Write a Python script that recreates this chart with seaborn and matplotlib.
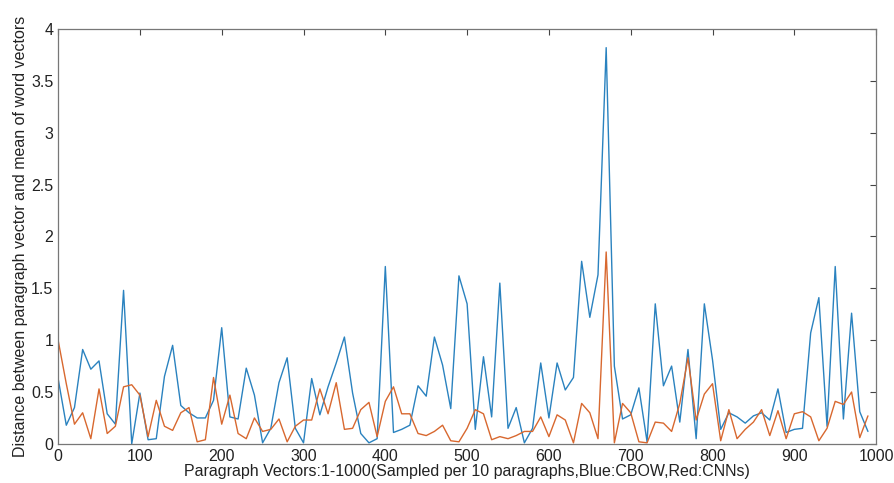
import numpy as np
import pandas as pd
import matplotlib
matplotlib.use("Agg")
import matplotlib.pyplot as plt
import seaborn as sns

# sampled paragraph index (every 10 paragraphs)
x_idx = list(range(0, 1000, 10))

cbow = [0.63, 0.18, 0.35, 0.91, 0.72, 0.80, 0.29, 0.19, 1.48, 0.00,
        0.49, 0.04, 0.05, 0.65, 0.95, 0.37, 0.30, 0.25, 0.25, 0.42,
        1.12, 0.26, 0.24, 0.73, 0.47, 0.01, 0.15, 0.59, 0.83, 0.15,
        0.01, 0.63, 0.28, 0.55, 0.78, 1.03, 0.49, 0.10, 0.01, 0.05,
        1.71, 0.11, 0.14, 0.18, 0.56, 0.46, 1.03, 0.76, 0.34, 1.62,
        1.35, 0.14, 0.84, 0.26, 1.55, 0.15, 0.35, 0.01, 0.15, 0.78,
        0.25, 0.78, 0.52, 0.64, 1.76, 1.22, 1.63, 3.82, 0.75, 0.24,
        0.28, 0.54, 0.02, 1.35, 0.56, 0.75, 0.21, 0.91, 0.05, 1.35,
        0.81, 0.14, 0.30, 0.26, 0.20, 0.27, 0.30, 0.23, 0.53, 0.11,
        0.14, 0.15, 1.07, 1.41, 0.17, 1.71, 0.24, 1.26, 0.31, 0.12]

cnns = [1.00, 0.58, 0.19, 0.30, 0.05, 0.53, 0.10, 0.17, 0.55, 0.57,
        0.47, 0.07, 0.42, 0.17, 0.13, 0.30, 0.35, 0.02, 0.04, 0.64,
        0.19, 0.47, 0.10, 0.05, 0.25, 0.12, 0.14, 0.24, 0.02, 0.17,
        0.23, 0.23, 0.53, 0.29, 0.59, 0.14, 0.15, 0.33, 0.40, 0.07,
        0.41, 0.55, 0.29, 0.29, 0.10, 0.08, 0.12, 0.18, 0.03, 0.02,
        0.15, 0.33, 0.29, 0.04, 0.07, 0.05, 0.08, 0.12, 0.12, 0.26,
        0.07, 0.28, 0.23, 0.01, 0.39, 0.30, 0.05, 1.85, 0.01, 0.39,
        0.30, 0.02, 0.01, 0.21, 0.20, 0.12, 0.39, 0.83, 0.23, 0.48,
        0.58, 0.03, 0.33, 0.05, 0.14, 0.21, 0.33, 0.08, 0.32, 0.05,
        0.29, 0.31, 0.26, 0.03, 0.15, 0.41, 0.38, 0.50, 0.06, 0.27]

yticks = [0, 0.5, 1, 1.5, 2, 2.5, 3, 3.5, 4]
ytick_labels = ["0", "0.5", "1", "1.5", "2", "2.5", "3", "3.5", "4"]
xticks = list(range(0, 1001, 100))

df = pd.DataFrame({"x": x_idx * 2,
                   "dist": cbow + cnns,
                   "model": ["CBOW"] * len(cbow) + ["CNNs"] * len(cnns)})

sns.set_style("white")
plt.rcParams['font.family'] = ['Liberation Sans', 'DejaVu Sans']

fig = plt.figure(figsize=(8.94, 4.83), dpi=100)
ax = fig.add_axes([0.065, 0.081, 0.915, 0.859])

sns.lineplot(data=df, x="x", y="dist", hue="model",
             palette={"CBOW": "#2a82bf", "CNNs": "#d8682f"},
             linewidth=1.0, legend=False, ax=ax)

ax.set_xlim(0, 1000)
ax.set_ylim(0, 4)
ax.set_xticks(xticks)
ax.set_yticks(yticks)
ax.set_yticklabels(ytick_labels)
ax.tick_params(direction="in", length=4, width=0.8, colors="#444444",
               labelsize=11.5, top=True, right=True,
               labelcolor="#222222")
for s in ax.spines.values():
    s.set_color("#777777")
    s.set_linewidth(0.9)

ax.set_xlabel("Paragraph Vectors:1-1000(Sampled per 10 paragraphs,Blue:CBOW,Red:CNNs)",
              fontsize=11.5, color="#222222", labelpad=0)
ax.set_ylabel("Distance between paragraph vector and mean of word vectors",
              fontsize=11.5, color="#222222", labelpad=2)

fig.savefig("out.png", dpi=100, facecolor="white")
